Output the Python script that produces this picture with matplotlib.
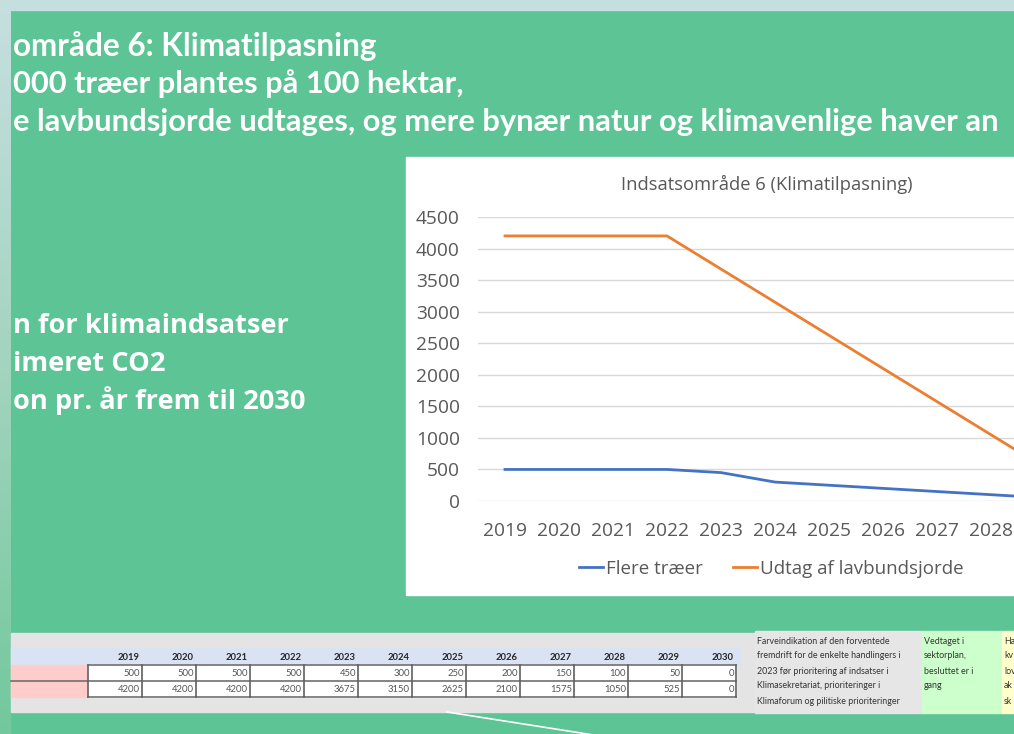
import matplotlib
matplotlib.use("Agg")
import matplotlib.pyplot as plt
from matplotlib.patches import Rectangle
from matplotlib.colors import LinearSegmentedColormap
import numpy as np

# chart data
years = [2019, 2020, 2021, 2022, 2023, 2024, 2025, 2026, 2027, 2028, 2029, 2030]
flere_traeer = [500, 500, 500, 500, 450, 300, 250, 200, 150, 100, 50, 0]
lavbundsjorde = [4200, 4200, 4200, 4200, 3675, 3150, 2625, 2100, 1575, 1050, 525, 0]
series_names = ["Flere træer", "Udtag af lavbundsjorde"]
chart_title = "Indsatsområde 6 (Klimatilpasning)"
y_ticks = [0, 500, 1000, 1500, 2000, 2500, 3000, 3500, 4000, 4500]

# slide texts (cut off at the left edge in the screenshot)
heading_lines = ["område 6: Klimatilpasning",
                 "000 træer plantes på 100 hektar,",
                 "e lavbundsjorde udtages, og mere bynær natur og klimavenlige haver an"]
side_lines = ["n for klimaindsatser", "imeret CO2", "on pr. år frem til 2030"]
note_lines = ["Farveindikation af den forventede",
              "fremdrift for de enkelte handlingers i",
              "2023 før prioritering af indsatser i",
              "Klimasekretariat, prioriteringer i",
              "Klimaforum og pilitiske prioriteringer"]
green_lines = ["Vedtaget i", "sektorplan,", "besluttet er i", "gang"]
yellow_lines = ["Ha", "kv", "lov", "ak", "sk"]

GREEN = "#5cc495"
BLUE = "#4472C4"
ORANGE = "#ED7D31"
GREY_TXT = "#595959"

W, H = 1014, 734
fig = plt.figure(figsize=(W / 100, H / 100), dpi=100)
renderer = fig.canvas.get_renderer()


def fit(t, width):
    w = t.get_window_extent(renderer).width
    t.set_fontsize(t.get_fontsize() * width / w)
    return t.get_fontsize()


# background axes in pixel coordinates
bg = fig.add_axes([0, 0, 1, 1])
bg.axis("off")
bg.add_patch(Rectangle((0, 0), W, H, color=GREEN, zorder=0))
bg.add_patch(Rectangle((0, 0), W, 10, color="#c5dfdf", zorder=1))
strip = LinearSegmentedColormap.from_list("strip", ["#c5dfdf", "#a2d4be", "#72c89d"])
bg.imshow(np.linspace(0, 1, 200).reshape(-1, 1), cmap=strip, extent=(0, 11, H, 10),
          origin="upper", aspect="auto", zorder=1)
bg.set_xlim(0, W)
bg.set_ylim(H, 0)

# headings
t1 = bg.text(13, 56, heading_lines[0], color="white", fontsize=20, family="Lato",
             weight="bold", va="baseline", clip_on=True)
t2 = bg.text(13, 93, heading_lines[1], color="white", fontsize=20, family="Lato",
             weight="bold", va="baseline", clip_on=True)
fit(t1, 364)
fs = fit(t2, 452)
bg.text(13, 131, heading_lines[2], color="white", fontsize=fs, family="Lato",
        weight="bold", va="baseline", clip_on=True)

side_y = [333, 371, 409]
side = [bg.text(13, y, s, color="white", fontsize=16, family="Open Sans",
                weight="bold", va="baseline") for s, y in zip(side_lines, side_y)]
fs2 = fit(side[2], 292)
for t in side:
    t.set_fontsize(fs2)

# white chart panel
bg.add_patch(Rectangle((406, 157), W - 406, 438, color="white", zorder=1))
tt = bg.text(767, 184, chart_title, color=GREY_TXT, fontsize=12, family="Open Sans",
             ha="center", va="center")
fit(tt, 290)

# table strip at the bottom
bg.add_patch(Rectangle((11, 633), 744, 79, color="#e4e4e4", zorder=1))
bg.add_patch(Rectangle((11, 648), 729, 17, color="#dae3f3", zorder=2))
bg.add_patch(Rectangle((11, 665), 77, 32, color="#ffcccc", zorder=2))
bg.add_patch(Rectangle((88, 665), 54 * len(years), 32, color="white", zorder=2))
for yy in [665, 681, 697]:
    bg.plot([11 if yy == 681 else 88, 88 + 54 * len(years)], [yy, yy],
            color="#707070", lw=1.2, zorder=3)
for k in range(len(years) + 1):
    x = 88 + 54 * k
    bg.plot([x, x], [665, 697], color="#606060", lw=1.2, zorder=3)
for k, yr in enumerate(years):
    xr = 88 + 54 * (k + 1) - 2
    bg.text(xr, 657, str(yr), fontsize=6.8, family="Lato", weight="bold",
            color="#262626", ha="right", va="center", zorder=4)
    bg.text(xr, 673.5, str(flere_traeer[k]), fontsize=6.8, family="Lato",
            color="#555555", ha="right", va="center", zorder=4)
    bg.text(xr, 689.5, str(lavbundsjorde[k]), fontsize=6.8, family="Lato",
            color="#555555", ha="right", va="center", zorder=4)

# colour legend boxes
bg.add_patch(Rectangle((755, 631), 167, 82, color="#e6e6e6", zorder=1))
bg.add_patch(Rectangle((922, 631), 80, 82, color="#ccffcc", zorder=1))
bg.add_patch(Rectangle((1002, 631), 12, 82, color="#ffffcc", zorder=1))
for i, s in enumerate(note_lines):
    bg.text(757, 641 + 15 * i, s, fontsize=6.4, family="Lato", color="#333333",
            va="center", zorder=4)
for i, s in enumerate(green_lines):
    bg.text(924, 641 + 15 * i, s, fontsize=6.4, family="Lato", color="#333333",
            va="center", zorder=4)
for i, s in enumerate(yellow_lines):
    bg.text(1004, 641 + 15 * i, s, fontsize=6.4, family="Lato", color="#333333",
            va="center", zorder=4, clip_on=True)

# thin decorative line on the slide
bg.plot([447, 600], [712, 736], color="white", lw=1.2, zorder=1)

# the line chart itself
ax = fig.add_axes([478 / W, 1 - 501 / H, 536 / W, 284 / H])
ax.patch.set_visible(False)
x = np.arange(len(years))
ax.plot(x, flere_traeer, color=BLUE, lw=2, label=series_names[0], zorder=3)
ax.plot(x, lavbundsjorde, color=ORANGE, lw=2, label=series_names[1], zorder=3)
ax.set_yticks(y_ticks)
ax.set_xticks(x, [str(y) for y in years])
# only 2019-2028 are inside the screenshot
ax.set_xlim(-0.5, -0.5 + 536 / 54)
ax.set_ylim(0, 4500)
ax.grid(axis="y", color="#d9d9d9", lw=1)
ax.set_axisbelow(True)
for sp in ax.spines.values():
    sp.set_visible(False)
ax.tick_params(axis="both", length=0, labelsize=13.8, labelcolor=GREY_TXT)
ax.tick_params(axis="y", pad=13)
ax.tick_params(axis="x", pad=15)
for lab in ax.get_xticklabels() + ax.get_yticklabels():
    lab.set_family("Open Sans")

handles, labels = ax.get_legend_handles_labels()
fig.legend(handles, labels, loc="center", bbox_to_anchor=(771 / W, 1 - 569 / H),
           ncol=2, frameon=False, handlelength=1.3, handletextpad=0.15,
           columnspacing=1.6, labelcolor=GREY_TXT, prop={"family": "Open Sans", "size": 13.5})

fig.savefig("out.png", dpi=100)
